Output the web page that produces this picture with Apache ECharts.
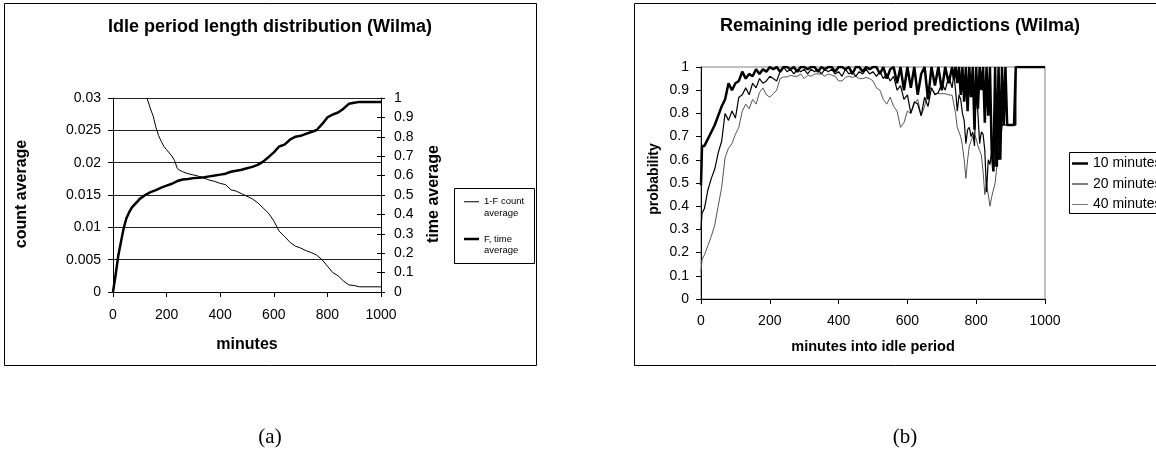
<!DOCTYPE html>
<html><head><meta charset="utf-8">
<script src="https://cdn.jsdelivr.net/npm/echarts@6/dist/echarts.min.js"></script>
<style>html,body{margin:0;padding:0;background:#fff;}#c{width:1156px;height:460px;}</style>
</head><body><div id="c"></div>
<script>
// ---- Chart (a): Idle period length distribution (Wilma) ----
const countMinutes = [127,140,150,160,170,180,190,200,210,220,230,240,250,260,280,300,320,340,360,380,400,420,440,460,480,500,520,540,560,580,600,620,640,660,680,700,720,740,760,780,800,820,840,860,880,900,920,1000];
const countAvg = [0.0300,0.0283,0.0272,0.0255,0.0242,0.0233,0.0225,0.0220,0.0215,0.0210,
  0.0203,0.0191,0.0188,0.0186,0.0183,0.0181,0.0179,0.0176,0.0173,0.0171,
  0.0168,0.0166,0.0158,0.0156,0.0152,0.0148,0.0144,0.0138,0.0130,0.0122,
  0.0110,0.0094,0.0086,0.0077,0.0071,0.0068,0.0064,0.0061,0.0057,0.0050,
  0.0040,0.0030,0.0025,0.0017,0.0011,0.0010,0.0008,0.0008];
const timeMinutes = [0,10,20,30,40,50,60,70,80,90,100,120,140,160,180,200,220,240,260,280,300,320,340,360,380,400,420,440,460,480,500,520,540,560,580,600,620,640,660,680,700,720,740,760,780,800,820,840,860,880,900,920,1000];
const timeAvg = [0,0.09,0.19,0.26,0.33,0.38,0.41,0.435,0.45,0.465,0.48,
  0.50,0.515,0.525,0.538,0.548,0.558,0.572,0.58,0.583,0.587,
  0.589,0.592,0.596,0.600,0.605,0.610,0.620,0.625,0.630,0.638,
  0.645,0.655,0.672,0.695,0.72,0.75,0.76,0.785,0.80,0.805,
  0.815,0.825,0.835,0.865,0.90,0.915,0.925,0.945,0.970,0.975,
  0.98,0.98];
const countTicks = {min:0, max:0.03, interval:0.005};
const timeTicks = {min:0, max:1, interval:0.1};
const minuteTicks = {min:0, max:1000, interval:200};

// ---- Chart (b): Remaining idle period predictions (Wilma) ----
const predMinutes = [0,3,
  10,20,30,40,50,60,70,80,90,100,
  110,120,130,140,150,160,170,180,190,200,
  210,220,230,240,250,260,270,280,290,300,
  310,320,330,340,350,360,370,380,390,400,
  410,420,430,440,450,460,470,480,490,500,
  510,520,530,540,550,560,570,580,590,600,
  610,620,630,640,650,660,670,680,690,700,
  710,720,730,
  735,740,745,750,755,760,765,770,775,780,
  785,790,795,800,805,810,815,820,825,830,
  835,840,845,850,855,860,865,870,875,880,
  885,890,895,900,905,910,915,
  915,1000];
const pred10 = [0.49,0.66,
  0.66,0.69,0.72,0.75,0.79,0.83,0.86,0.93,0.90,0.93,
  0.94,0.98,0.95,0.97,0.96,0.99,0.97,0.99,0.98,1.00,
  0.99,1.00,0.98,1.00,1.00,0.99,1.00,0.98,1.00,1.00,
  0.99,1.00,1.00,0.98,1.00,0.99,1.00,1.00,0.98,1.00,
  1.00,0.99,1.00,0.97,1.00,1.00,0.98,1.00,0.99,1.00,
  1.00,0.97,1.00,0.95,0.99,1.00,0.93,1.00,0.90,1.00,
  0.91,1.00,0.88,0.97,1.00,0.86,1.00,0.92,1.00,0.90,
  1.00,0.93,1.00,
  0.95,1.00,0.93,1.00,0.88,1.00,0.85,1.00,0.81,1.00,
  0.87,1.00,0.73,1.00,0.82,1.00,0.90,1.00,0.76,1.00,
  0.79,1.00,0.64,0.55,1.00,0.57,1.00,0.60,1.00,0.75,
  1.00,0.75,0.75,0.75,0.75,0.75,0.75,
  1.00,1.00];
const pred20 = [0.30,0.37,
  0.39,0.47,0.52,0.56,0.63,0.68,0.80,0.77,0.81,0.78,
  0.87,0.88,0.91,0.88,0.93,0.91,0.95,0.93,0.94,0.96,
  0.95,0.94,0.98,1.00,0.98,0.99,0.97,0.99,0.98,0.99,
  0.97,0.99,0.98,0.99,0.97,0.99,0.98,0.99,0.97,0.98,
  0.96,0.99,0.97,0.98,0.96,0.98,0.97,0.99,0.97,0.98,
  0.96,0.98,0.95,0.97,0.94,0.96,0.90,0.92,0.86,0.88,
  0.80,0.85,0.84,0.79,0.87,0.83,0.91,0.88,0.89,0.93,
  0.90,0.96,0.91,
  0.97,0.90,0.81,0.88,0.86,0.80,0.77,0.67,0.73,0.74,
  0.70,0.72,0.66,0.93,0.80,0.67,0.72,0.71,0.64,0.46,
  0.60,0.58,0.64,0.60,0.57,0.81,0.60,0.65,0.75,0.75,
  0.75,0.75,0.75,0.75,0.75,0.75,0.75,
  1.00,1.00];
const pred40 = [0.12,0.17,
  0.19,0.23,0.27,0.32,0.40,0.48,0.61,0.65,0.67,0.71,
  0.74,0.81,0.84,0.82,0.86,0.84,0.89,0.91,0.88,0.87,
  0.885,0.90,0.95,0.957,0.957,0.964,0.96,0.96,0.97,0.95,
  0.965,0.96,0.97,0.97,0.97,0.96,0.97,0.965,0.96,0.94,
  0.94,0.955,0.96,0.955,0.96,0.95,0.95,0.955,0.95,0.94,
  0.91,0.90,0.86,0.84,0.87,0.83,0.81,0.74,0.76,0.81,
  0.80,0.84,0.86,0.79,0.83,0.90,0.91,0.885,0.885,0.885,
  0.885,0.88,0.878,
  0.88,0.80,0.74,0.72,0.70,0.66,0.60,0.52,0.60,0.66,
  0.68,0.70,0.71,0.69,0.66,0.64,0.62,0.55,0.45,0.50,
  0.50,0.40,0.44,0.44,0.50,0.57,0.68,0.73,0.75,0.75,
  0.75,0.75,0.75,0.75,0.75,0.75,0.75,
  1.00,1.00];
const probTicks = {min:0, max:1, interval:0.1};

const leftLegendNames = ['1-F count\naverage', 'F, time\naverage'];
const rightLegendNames = ['10 minutes', '20 minutes', '40 minutes'];

const F = '"Liberation Sans", Arial, sans-serif';
const SERIF = '"Liberation Serif", "DejaVu Serif", serif';
function pairs(xs, ys) { return xs.map((x, i) => [x, ys[i]]); }
// legend line-sample icon: a horizontal bar of given thickness centred in a w x h box
function lineIcon(w, h, t) {
  const y0 = (h - t) / 2, y1 = (h + t) / 2;
  return 'path://M0,0H0.01V0.01H0Z M' + (w - 0.01) + ',' + (h - 0.01) + 'H' + w + 'V' + h + 'H' + (w - 0.01) + 'Z M0,' + y0 + 'H' + w + 'V' + y1 + 'H0Z';
}

const axisLineBlack = {show: true, onZero: false, lineStyle: {color: '#000', width: 1}};
const labelStyle = {color: '#000', fontSize: 14, fontFamily: F};
const plainNum = v => String(+v.toFixed(3));

const chart = echarts.init(document.getElementById('c'), null, {renderer: 'canvas'});
chart.setOption({
  animation: false,
  backgroundColor: '#fff',
  grid: [
    {left: 113, top: 98, width: 268, height: 194, show: false},
    {left: 701, top: 67, width: 344, height: 232, show: true, borderColor: '#808080', borderWidth: 1, backgroundColor: 'rgba(0,0,0,0)'}
  ],
  xAxis: [
    Object.assign({gridIndex: 0, type: 'value'}, minuteTicks, {
      axisLine: axisLineBlack, axisTick: {show: true, length: 5, lineStyle: {color: '#000'}},
      axisLabel: Object.assign({margin: 16, formatter: plainNum}, labelStyle), splitLine: {show: false}}),
    Object.assign({gridIndex: 1, type: 'value'}, minuteTicks, {
      axisLine: axisLineBlack, axisTick: {show: true, length: 5, lineStyle: {color: '#000'}},
      axisLabel: Object.assign({margin: 15, formatter: plainNum}, labelStyle), splitLine: {show: false}})
  ],
  yAxis: [
    Object.assign({gridIndex: 0, type: 'value', position: 'left'}, countTicks, {
      axisLine: axisLineBlack, axisTick: {show: true, length: 5, lineStyle: {color: '#000'}},
      axisLabel: Object.assign({margin: 12, formatter: plainNum}, labelStyle),
      splitLine: {show: true, lineStyle: {color: '#222', width: 1}}}),
    Object.assign({gridIndex: 0, type: 'value', position: 'right'}, timeTicks, {
      axisLine: axisLineBlack, axisTick: {show: true, length: 4, lineStyle: {color: '#000'}},
      axisLabel: Object.assign({margin: 13, formatter: plainNum}, labelStyle),
      splitLine: {show: false}}),
    Object.assign({gridIndex: 0, type: 'value', position: 'right'}, timeTicks, {
      axisLine: {show: false, onZero: false}, axisTick: {show: true, inside: true, length: 4, lineStyle: {color: '#000'}},
      axisLabel: {show: false}, splitLine: {show: false}}),
    Object.assign({gridIndex: 1, type: 'value', position: 'left'}, probTicks, {
      axisLine: axisLineBlack, axisTick: {show: true, length: 5, lineStyle: {color: '#000'}},
      axisLabel: Object.assign({margin: 12, formatter: plainNum}, labelStyle),
      splitLine: {show: false}})
  ],
  legend: [
    {data: [{name: leftLegendNames[0], icon: lineIcon(15, 10, 1)}, {name: leftLegendNames[1], icon: lineIcon(15, 10, 2.5)}],
     orient: 'vertical', left: 464, top: 184.5, padding: 0,
     itemWidth: 15, itemHeight: 10, itemGap: 2.8, selectedMode: false,
     itemStyle: {borderWidth: 0},
     formatter: n => '\n' + n,
     textStyle: {fontSize: 9.5, lineHeight: 11.5, fontFamily: F, color: '#000'}},
    {data: [{name: rightLegendNames[0], icon: lineIcon(16, 10, 2.5)}, {name: rightLegendNames[1], icon: lineIcon(16, 10, 1.2)}, {name: rightLegendNames[2], icon: lineIcon(16, 10, 1)}],
     orient: 'vertical', left: 1072, top: 155.5, padding: 0,
     itemWidth: 16, itemHeight: 10, itemGap: 4.5, selectedMode: false,
     itemStyle: {borderWidth: 0},
     textStyle: {fontSize: 14, lineHeight: 16, fontFamily: F, color: '#000'}}
  ],
  series: [
    {name: leftLegendNames[0], type: 'line', xAxisIndex: 0, yAxisIndex: 0, data: pairs(countMinutes, countAvg),
     symbol: 'none', lineStyle: {color: '#000', width: 1}, itemStyle: {color: '#000'}, clip: true},
    {name: leftLegendNames[1], type: 'line', xAxisIndex: 0, yAxisIndex: 1, data: pairs(timeMinutes, timeAvg),
     symbol: 'none', lineStyle: {color: '#000', width: 2.5}, itemStyle: {color: '#000'}, clip: true},
    {name: rightLegendNames[2], type: 'line', xAxisIndex: 1, yAxisIndex: 3, data: pairs(predMinutes, pred40),
     symbol: 'none', lineStyle: {color: '#555', width: 1}, itemStyle: {color: '#777'}, clip: true},
    {name: rightLegendNames[1], type: 'line', xAxisIndex: 1, yAxisIndex: 3, data: pairs(predMinutes, pred20),
     symbol: 'none', lineStyle: {color: '#000', width: 1.2}, itemStyle: {color: '#000'}, clip: true},
    {name: rightLegendNames[0], type: 'line', xAxisIndex: 1, yAxisIndex: 3, data: pairs(predMinutes, pred10),
     symbol: 'none', lineStyle: {color: '#000', width: 2.5}, itemStyle: {color: '#000'}, clip: true}
  ],
  graphic: [
    {type: 'rect', shape: {x: 4.5, y: 3.5, width: 532, height: 362}, style: {fill: 'none', stroke: '#000', lineWidth: 1}, silent: true},
    {type: 'rect', shape: {x: 634.5, y: 3.5, width: 540, height: 362}, style: {fill: 'none', stroke: '#000', lineWidth: 1}, silent: true},
    {type: 'rect', shape: {x: 454.5, y: 188.5, width: 80, height: 75}, style: {fill: 'none', stroke: '#000', lineWidth: 1}, silent: true},
    {type: 'rect', shape: {x: 1069.5, y: 152.5, width: 100, height: 61}, style: {fill: 'none', stroke: '#000', lineWidth: 1}, silent: true},
    {type: 'text', x: 270, y: 27, style: {text: 'Idle period length distribution (Wilma)', font: 'bold 18px ' + F, align: 'center', verticalAlign: 'middle', fill: '#000'}},
    {type: 'text', x: 900, y: 26, style: {text: 'Remaining idle period predictions (Wilma)', font: 'bold 18px ' + F, align: 'center', verticalAlign: 'middle', fill: '#000'}},
    {type: 'text', x: 22, y: 194, rotation: Math.PI / 2, style: {text: 'count average', font: 'bold 16px ' + F, align: 'center', verticalAlign: 'middle', fill: '#000'}},
    {type: 'text', x: 434, y: 194, rotation: Math.PI / 2, style: {text: 'time average', font: 'bold 16px ' + F, align: 'center', verticalAlign: 'middle', fill: '#000'}},
    {type: 'text', x: 247, y: 345, style: {text: 'minutes', font: 'bold 16px ' + F, align: 'center', verticalAlign: 'middle', fill: '#000'}},
    {type: 'text', x: 654, y: 179, rotation: Math.PI / 2, style: {text: 'probability', font: 'bold 14px ' + F, align: 'center', verticalAlign: 'middle', fill: '#000'}},
    {type: 'text', x: 873, y: 347, style: {text: 'minutes into idle period', font: 'bold 14.5px ' + F, align: 'center', verticalAlign: 'middle', fill: '#000'}},
    {type: 'text', x: 270, y: 437, style: {text: '(a)', font: '21px ' + SERIF, align: 'center', verticalAlign: 'middle', fill: '#000'}},
    {type: 'text', x: 905, y: 437, style: {text: '(b)', font: '21px ' + SERIF, align: 'center', verticalAlign: 'middle', fill: '#000'}}
  ]
});
</script>
</body></html>
